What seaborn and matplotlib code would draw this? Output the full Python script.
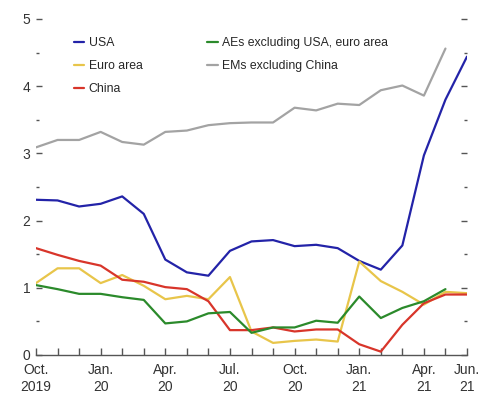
import numpy as np
import pandas as pd
import matplotlib
matplotlib.use("Agg")
import matplotlib.pyplot as plt
import seaborn as sns

# monthly, Oct 2019 .. Jun 2021 (21 points)
months = pd.period_range("2019-10", "2021-06", freq="M").astype(str)

usa = [2.31, 2.30, 2.21, 2.25, 2.36, 2.10, 1.42, 1.23, 1.18, 1.55, 1.69, 1.71,
       1.62, 1.64, 1.59, 1.40, 1.27, 1.63, 2.97, 3.80, 4.44]
euro = [1.07, 1.29, 1.29, 1.07, 1.19, 1.03, 0.83, 0.88, 0.83, 1.16, 0.35, 0.18,
        0.21, 0.23, 0.20, 1.39, 1.10, 0.94, 0.75, 0.94, 0.92]
china = [1.59, 1.49, 1.40, 1.33, 1.12, 1.09, 1.01, 0.98, 0.80, 0.37, 0.37, 0.41,
         0.35, 0.38, 0.38, 0.16, 0.05, 0.45, 0.77, 0.90, 0.90]
aes = [1.04, 0.98, 0.91, 0.91, 0.86, 0.82, 0.47, 0.50, 0.62, 0.64, 0.33, 0.41,
       0.41, 0.51, 0.48, 0.87, 0.55, 0.70, 0.80, 0.98, np.nan]
ems = [3.09, 3.20, 3.20, 3.32, 3.17, 3.13, 3.32, 3.34, 3.42, 3.45, 3.46, 3.46,
       3.68, 3.64, 3.74, 3.72, 3.94, 4.01, 3.86, 4.56, np.nan]

series = {
    "USA": usa,
    "Euro area": euro,
    "China": china,
    "AEs excluding USA, euro area": aes,
    "EMs excluding China": ems,
}
colors = {
    "USA": "#2323a8",
    "Euro area": "#e8c54a",
    "China": "#d8352a",
    "AEs excluding USA, euro area": "#2b8a2b",
    "EMs excluding China": "#a3a3a3",
}

tick_pos = [0, 3, 6, 9, 12, 15, 18, 20]
tick_labels = ["Oct.\n2019", "Jan.\n20", "Apr.\n20", "Jul.\n20",
               "Oct.\n20", "Jan.\n21", "Apr.\n21", "Jun.\n21"]

df = pd.DataFrame(series)
df["t"] = np.arange(len(months))
long = df.melt(id_vars="t", var_name="series", value_name="value")

sns.set_style("white")
plt.rcParams["font.family"] = ["Liberation Sans", "DejaVu Sans"]

fig = plt.figure(figsize=(4.93, 4.0), dpi=100)
ax = fig.add_axes([36 / 493, 45 / 400, 431 / 493, 336 / 400])

sns.lineplot(data=long, x="t", y="value", hue="series", palette=colors,
             hue_order=list(series.keys()), linewidth=1.6, ax=ax,
             legend=False)

ax.set_xlim(0, 20)
ax.set_ylim(0, 5)
ax.set_xlabel("")
ax.set_ylabel("")

for s in ["top", "right", "left"]:
    ax.spines[s].set_visible(False)
ax.spines["bottom"].set_color("#555555")
ax.spines["bottom"].set_linewidth(1.0)

ax.set_xticks(tick_pos)
ax.set_xticklabels(tick_labels, fontsize=10, color="#333333", linespacing=1.25)
ax.set_xticks(range(21), minor=True)
ax.tick_params(axis="x", which="both", direction="in", length=5, width=1,
               color="#555555", pad=6, bottom=True)

ax.set_yticks(range(6))
ax.set_yticklabels([str(i) for i in range(6)], fontsize=10, color="#333333")
ax.set_yticks(np.arange(0.5, 5, 1.0), minor=True)
ax.tick_params(axis="y", which="major", direction="in", length=4, width=1,
               color="#555555", pad=4, left=True, right=True)
ax.tick_params(axis="y", which="minor", direction="in", length=2, width=1,
               color="#555555", left=True, right=True)

handles = [plt.Line2D([], [], color=colors[k], lw=1.6) for k in series]
ax.legend(handles, list(series.keys()), ncol=2, loc="upper left",
          bbox_to_anchor=(0.088, 0.945), frameon=False, fontsize=8.8,
          handlelength=0.85, handletextpad=0.35, columnspacing=5.3,
          labelspacing=0.9, borderaxespad=0, borderpad=0)

fig.savefig("out.png", dpi=100)
